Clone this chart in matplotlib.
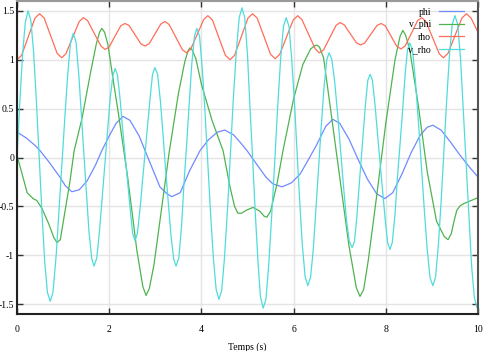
import matplotlib
matplotlib.use('Agg')
import matplotlib.pyplot as plt

# phi (angle)
t_phi = [0.0, 0.2, 0.4, 0.5, 0.7, 0.93, 1.05, 1.19, 1.35, 1.52, 1.7, 1.84, 2.0, 2.15, 2.3,
         2.45, 2.65, 2.83, 3.1, 3.25, 3.36, 3.54, 3.75, 3.97, 4.15, 4.35, 4.51, 4.7, 4.85,
         4.99, 5.2, 5.4, 5.55, 5.75, 5.95, 6.14, 6.3, 6.5, 6.7, 6.85, 7.0, 7.2, 7.4, 7.6,
         7.8, 7.98, 8.15, 8.35, 8.55, 8.75, 8.9, 9.02, 9.2, 9.4, 9.6, 9.8, 10.0]
phi = [0.26, 0.20, 0.12, 0.07, -0.05, -0.20, -0.29, -0.35, -0.33, -0.24, -0.08, 0.07, 0.22,
       0.35, 0.42, 0.38, 0.22, 0.01, -0.30, -0.37, -0.40, -0.36, -0.13, 0.07, 0.18, 0.26,
       0.28, 0.23, 0.15, 0.07, -0.07, -0.20, -0.27, -0.30, -0.26, -0.17, -0.04, 0.13, 0.32,
       0.39, 0.35, 0.19, -0.02, -0.22, -0.37, -0.42, -0.36, -0.17, 0.05, 0.23, 0.31, 0.33,
       0.28, 0.16, 0.03, -0.09, -0.20]

# v_phi (angular speed)
t_vphi = [0.0, 0.1, 0.22, 0.35, 0.43, 0.54, 0.69, 0.80, 0.87, 0.94, 1.02, 1.15, 1.24, 1.41,
          1.6, 1.72, 1.79, 1.84, 1.90, 1.97, 2.1, 2.2, 2.4, 2.6, 2.73, 2.8, 2.87, 2.97, 3.1,
          3.3, 3.5, 3.64, 3.71, 3.75, 3.80, 3.88, 4.0, 4.23, 4.47, 4.62, 4.72, 4.79, 4.87,
          4.97, 5.12, 5.27, 5.36, 5.42, 5.50, 5.64, 5.77, 6.0, 6.2, 6.37, 6.45, 6.5, 6.56,
          6.65, 6.8, 7.0, 7.2, 7.36, 7.44, 7.52, 7.62, 7.8, 8.0, 8.2, 8.31, 8.37, 8.43, 8.52,
          8.7, 8.9, 9.1, 9.27, 9.35, 9.42, 9.48, 9.54, 9.62, 9.7, 9.85, 10.0]
v_phi = [0.02, -0.15, -0.36, -0.42, -0.44, -0.52, -0.68, -0.82, -0.87, -0.84, -0.61, -0.24,
         0.07, 0.40, 0.88, 1.16, 1.28, 1.32, 1.28, 1.16, 0.75, 0.45, -0.20, -0.95, -1.32,
         -1.41, -1.34, -1.10, -0.65, 0.05, 0.65, 0.98, 1.09, 1.12, 1.10, 1.01, 0.75, 0.38,
         0.07, -0.30, -0.50, -0.57, -0.57, -0.54, -0.51, -0.55, -0.60, -0.61, -0.55, -0.27,
         0.07, 0.60, 0.95, 1.11, 1.14, 1.15, 1.13, 1.02, 0.50, -0.20, -0.90, -1.33, -1.42,
         -1.35, -1.05, -0.40, 0.35, 1.00, 1.24, 1.30, 1.25, 1.10, 0.55, -0.15, -0.65, -0.81,
         -0.84, -0.78, -0.65, -0.54, -0.49, -0.47, -0.44, -0.41]

# rho (length)
t_rho = [0.0, 0.10, 0.245, 0.39, 0.49, 0.59, 0.73, 0.87, 0.97, 1.06, 1.205, 1.35, 1.44,
         1.53, 1.675, 1.82, 1.91, 2.0, 2.125, 2.25, 2.34, 2.43, 2.56, 2.69, 2.78, 2.87,
         2.995, 3.12, 3.21, 3.30, 3.445, 3.59, 3.68, 3.77, 3.91, 4.05, 4.14, 4.24, 4.38,
         4.52, 4.62, 4.72, 4.865, 5.01, 5.11, 5.21, 5.355, 5.50, 5.60, 5.70, 5.845, 5.99,
         6.09, 6.18, 6.325, 6.47, 6.56, 6.65, 6.785, 6.92, 7.01, 7.10, 7.23, 7.36, 7.45,
         7.54, 7.675, 7.81, 7.90, 7.99, 8.115, 8.24, 8.33, 8.42, 8.555, 8.69, 8.78, 8.87,
         9.015, 9.16, 9.25, 9.35, 9.50, 9.65, 9.75, 9.85, 10.0]
rho = [1.00, 1.045, 1.235, 1.425, 1.47, 1.425, 1.245, 1.065, 1.02, 1.06, 1.225, 1.39, 1.43,
       1.40, 1.27, 1.14, 1.105, 1.13, 1.24, 1.345, 1.37, 1.35, 1.255, 1.16, 1.14, 1.165,
       1.265, 1.365, 1.39, 1.36, 1.23, 1.10, 1.07, 1.11, 1.26, 1.41, 1.45, 1.405, 1.225,
       1.045, 1.00, 1.045, 1.235, 1.425, 1.47, 1.425, 1.24, 1.055, 1.01, 1.055, 1.23,
       1.405, 1.45, 1.41, 1.26, 1.11, 1.07, 1.10, 1.225, 1.35, 1.38, 1.355, 1.265, 1.175,
       1.15, 1.17, 1.26, 1.35, 1.37, 1.345, 1.24, 1.135, 1.11, 1.14, 1.27, 1.40, 1.43,
       1.39, 1.225, 1.06, 1.02, 1.065, 1.245, 1.425, 1.47, 1.425, 1.28]

# v_rho (radial speed)
t_vrho = [0.0, 0.06, 0.12, 0.18, 0.24, 0.30, 0.36, 0.42, 0.48, 0.54, 0.60, 0.66, 0.72,
          0.78, 0.85, 0.91, 0.97, 1.03, 1.10, 1.16, 1.22, 1.28, 1.34, 1.40, 1.445, 1.50,
          1.56, 1.62, 1.67, 1.73, 1.79, 1.85, 1.90, 1.96, 2.02, 2.08, 2.13, 2.18, 2.24,
          2.29, 2.345, 2.40, 2.46, 2.51, 2.56, 2.61, 2.67, 2.72, 2.775, 2.83, 2.89, 2.94,
          2.99, 3.05, 3.11, 3.17, 3.22, 3.28, 3.34, 3.40, 3.45, 3.51, 3.57, 3.62, 3.675,
          3.73, 3.79, 3.85, 3.90, 3.96, 4.02, 4.08, 4.14, 4.20, 4.26, 4.32, 4.38, 4.44,
          4.50, 4.57, 4.63, 4.69, 4.76, 4.82, 4.88, 4.94, 5.00, 5.05, 5.11, 5.17, 5.23,
          5.28, 5.34, 5.40, 5.46, 5.53, 5.59, 5.65, 5.72, 5.78, 5.84, 5.90, 5.96, 6.02,
          6.075, 6.13, 6.19, 6.25, 6.31, 6.37, 6.43, 6.48, 6.54, 6.60, 6.66, 6.72, 6.77,
          6.83, 6.89, 6.96, 7.02, 7.08, 7.15, 7.21, 7.27, 7.32, 7.37, 7.42, 7.465, 7.51,
          7.56, 7.61, 7.66, 7.71, 7.77, 7.82, 7.875, 7.93, 7.99, 8.04, 8.09, 8.14, 8.20,
          8.25, 8.305, 8.36, 8.42, 8.47, 8.52, 8.58, 8.64, 8.71, 8.77, 8.83, 8.90, 8.96,
          9.02, 9.08, 9.14, 9.20, 9.26, 9.32, 9.38, 9.44, 9.50, 9.56, 9.62, 9.68, 9.74,
          9.80, 9.86, 9.92, 9.98, 10.0]
v_rho = [0.0, 0.55, 1.05, 1.38, 1.50, 1.40, 1.08, 0.58, 0.02, -0.55, -1.06, -1.38, -1.47,
         -1.38, -1.00, -0.55, -0.10, 0.35, 0.85, 1.17, 1.27, 1.18, 0.85, 0.40, 0.08, -0.32,
         -0.75, -1.03, -1.11, -1.03, -0.75, -0.40, -0.10, 0.25, 0.60, 0.84, 0.91, 0.84,
         0.58, 0.30, 0.03, -0.25, -0.55, -0.78, -0.85, -0.78, -0.52, -0.25, 0.03, 0.32,
         0.62, 0.85, 0.92, 0.85, 0.58, 0.22, -0.10, -0.45, -0.80, -1.04, -1.11, -1.03,
         -0.70, -0.28, 0.10, 0.50, 0.95, 1.24, 1.32, 1.24, 0.90, 0.45, -0.06, -0.58, -1.03,
         -1.35, -1.45, -1.36, -1.03, -0.50, 0.04, 0.58, 1.10, 1.43, 1.53, 1.43, 1.05, 0.55,
         0.0, -0.58, -1.08, -1.42, -1.54, -1.45, -1.10, -0.55, -0.05, 0.48, 1.02, 1.34,
         1.43, 1.34, 1.00, 0.55, 0.06, -0.43, -0.90, -1.22, -1.31, -1.22, -0.92, -0.55,
         -0.12, 0.32, 0.72, 1.00, 1.07, 1.00, 0.78, 0.42, 0.07, -0.28, -0.65, -0.86, -0.92,
         -0.86, -0.62, -0.30, -0.03, 0.25, 0.55, 0.79, 0.85, 0.79, 0.52, 0.24, -0.05, -0.33,
         -0.65, -0.87, -0.94, -0.87, -0.58, -0.22, 0.11, 0.45, 0.85, 1.10, 1.17, 1.10, 0.80,
         0.35, -0.07, -0.50, -0.95, -1.23, -1.31, -1.22, -0.90, -0.45, 0.07, 0.58, 1.04,
         1.36, 1.45, 1.36, 1.02, 0.50, -0.04, -0.58, -1.10, -1.43, -1.54, -1.53]

plt.rcParams['font.family'] = ['Liberation Serif', 'DejaVu Serif']
plt.rcParams['font.size'] = 7

fig = plt.figure(figsize=(4.84, 3.51), dpi=100)
ax = fig.add_axes([17 / 484, 1 - 314 / 351, 461 / 484, 313 / 351])

ax.plot(t_phi, phi, color='#6f8bff', lw=0.9, label='phi')
ax.plot(t_vphi, v_phi, color='#4fb34f', lw=0.9, label='v_phi')
ax.plot(t_rho, rho, color='#ff6e58', lw=0.9, label='rho')
ax.plot(t_vrho, v_rho, color='#4fdcdc', lw=0.9, label='v_rho')

ax.set_xlim(0, 10)
ax.set_ylim(-1.6, 1.6)
ax.set_xticks([0, 2, 4, 6, 8, 10])
ax.set_yticks([-1.5, -1, -0.5, 0, 0.5, 1, 1.5])
ax.set_yticklabels(['-1.5', '-1', '-0.5', '0', '0.5', '1', '1.5'])
ax.grid(True, color='#e4e4e4', lw=1)
ax.set_axisbelow(True)
ax.tick_params(direction='in', length=4, width=1, color='#333333',
               top=True, right=True, pad=2)
ax.tick_params(axis='x', pad=8)

ax.spines['left'].set_color('#222222')
ax.spines['bottom'].set_color('#222222')
ax.spines['right'].set_color('#555555')
ax.spines['top'].set_color('#999999')
for s in ax.spines.values():
    s.set_linewidth(1.5)

ax.set_xlabel('Temps (s)', labelpad=6)

ax.legend(loc='upper right', frameon=False, markerfirst=False, handlelength=2.6,
          handletextpad=0.8, labelspacing=0.35, borderaxespad=0.4, borderpad=0.3,
          bbox_to_anchor=(0.985, 1.0))

fig.savefig('out.png', dpi=100)
